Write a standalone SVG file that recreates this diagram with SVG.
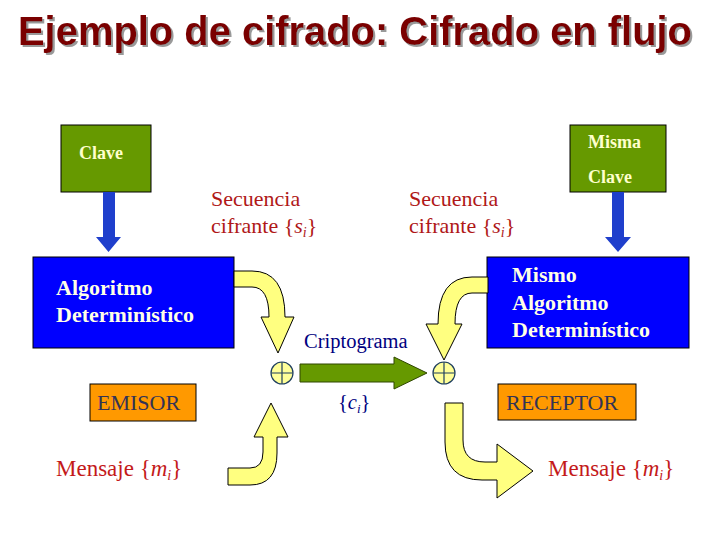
<svg xmlns="http://www.w3.org/2000/svg" width="720" height="540" viewBox="0 0 720 540">
<defs>
<filter id="shadow" x="-5%" y="-20%" width="110%" height="150%">
<feDropShadow dx="2" dy="2" stdDeviation="0.5" flood-color="#999" flood-opacity="1"/>
</filter>
</defs>
<style>
.title{font-family:"Liberation Sans",Arial,sans-serif;font-weight:bold;font-size:40px;fill:#7a0000}
.key{fill:#669900;stroke:#000;stroke-width:1}
.keyt{font-family:"Liberation Serif","Times New Roman",serif;font-weight:bold;font-size:18px;fill:#ffffcc}
.alg{fill:#0000ff;stroke:#000;stroke-width:1}
.algt{font-family:"Liberation Serif","Times New Roman",serif;font-weight:bold;font-size:22px;fill:#ffffe6}
.ora{fill:#ff9900;stroke:#000;stroke-width:1}
.orat{font-family:"Liberation Serif","Times New Roman",serif;font-size:22px;fill:#333355}
.red{font-family:"Liberation Serif","Times New Roman",serif;font-size:23px;fill:#c41a1a}
.sec{font-family:"Liberation Serif","Times New Roman",serif;font-size:22px;fill:#b01818}
.navy{font-family:"Liberation Serif","Times New Roman",serif;font-size:20.5px;fill:#000080}
.yel{fill:#ffff80;stroke:#000;stroke-width:1;stroke-linejoin:miter}
.blu{fill:#1f3fcc}
.xor{fill:#ffff99;stroke:#1f3f5f;stroke-width:1.2}
</style>
<rect width="720" height="540" fill="#fff"/>
<g id="title">
<text class="title" x="18" y="45" filter="url(#shadow)" textLength="674" lengthAdjust="spacingAndGlyphs">Ejemplo de cifrado: Cifrado en flujo</text>
</g>
<g id="clave">
<rect class="key" x="61" y="125" width="90" height="67"/>
<text class="keyt" x="79" y="159">Clave</text>
</g>
<g id="misma-clave">
<rect class="key" x="570" y="125" width="96" height="67"/>
<text class="keyt" x="588" y="148">Misma</text>
<text class="keyt" x="588" y="183">Clave</text>
</g>
<g id="algoritmo">
<rect class="alg" x="33" y="257" width="201" height="91"/>
<text class="algt" x="56" y="295">Algoritmo</text>
<text class="algt" x="56" y="322">Determinístico</text>
</g>
<g id="mismo-algoritmo">
<rect class="alg" x="487" y="257" width="202" height="91"/>
<text class="algt" x="512" y="282">Mismo</text>
<text class="algt" x="512" y="310">Algoritmo</text>
<text class="algt" x="512" y="337">Determinístico</text>
</g>
<g id="emisor">
<rect class="ora" x="90" y="384" width="106" height="37"/>
<text class="orat" x="97" y="410">EMISOR</text>
</g>
<g id="receptor">
<rect class="ora" x="498" y="384" width="138" height="36"/>
<text class="orat" x="506" y="410">RECEPTOR</text>
</g>
<g id="xor-left">
<circle class="xor" cx="282" cy="373" r="11"/>
<path d="M271,373H293M282,362V384" stroke="#1f3f5f" stroke-width="1.2"/>
</g>
<g id="xor-right">
<circle class="xor" cx="444" cy="373" r="11"/>
<path d="M433,373H455M444,362V384" stroke="#1f3f5f" stroke-width="1.2"/>
</g>
<g id="labels">
<text class="sec" x="211" y="206">Secuencia</text>
<text class="sec" x="211" y="233">cifrante {<tspan font-style="italic">s</tspan><tspan font-style="italic" font-size="14" dy="4">i</tspan><tspan dy="-4">}</tspan></text>
<text class="sec" x="409" y="206">Secuencia</text>
<text class="sec" x="409" y="233">cifrante {<tspan font-style="italic">s</tspan><tspan font-style="italic" font-size="14" dy="4">i</tspan><tspan dy="-4">}</tspan></text>
<text class="navy" x="304" y="348">Criptograma</text>
<text class="navy" x="338" y="409">{<tspan font-style="italic">c</tspan><tspan font-style="italic" font-size="13" dy="4">i</tspan><tspan dy="-4">}</tspan></text>
<text class="red" x="56" y="476">Mensaje {<tspan font-style="italic">m</tspan><tspan font-style="italic" font-size="14" dy="4">i</tspan><tspan dy="-4">}</tspan></text>
<text class="red" x="548" y="476">Mensaje {<tspan font-style="italic">m</tspan><tspan font-style="italic" font-size="14" dy="4">i</tspan><tspan dy="-4">}</tspan></text>
</g>
<g id="connectors">
<path class="blu" d="M103,192H115V237H121L108.5,252L96,237H103Z"/>
<path class="blu" d="M612,192H624V237H631L618,252L605,237H612Z"/>
<path class="yel" d="M234,271H252Q285,271 285,317H294L278,353L261,317H269Q269,287 252,287H234Z"/>
<path class="yel" d="M488,277H472Q438,277 438,324H426L444,360L462,324H455Q455,293 472,293H488Z"/>
<path class="yel" d="M271,403L288,437H277V453Q277,485 250,485H228V468H250Q263,468 263,452V437H254Z"/>
<path class="yel" d="M445,403H463V440Q463,462 485,462H497V444L533,471L497,498V480H482Q445,480 445,442Z"/>
<path d="M300,364H394V357L427,373L394,389V382H300Z" fill="#669900" stroke="#2f4700" stroke-width="1"/>
</g>
</svg>
